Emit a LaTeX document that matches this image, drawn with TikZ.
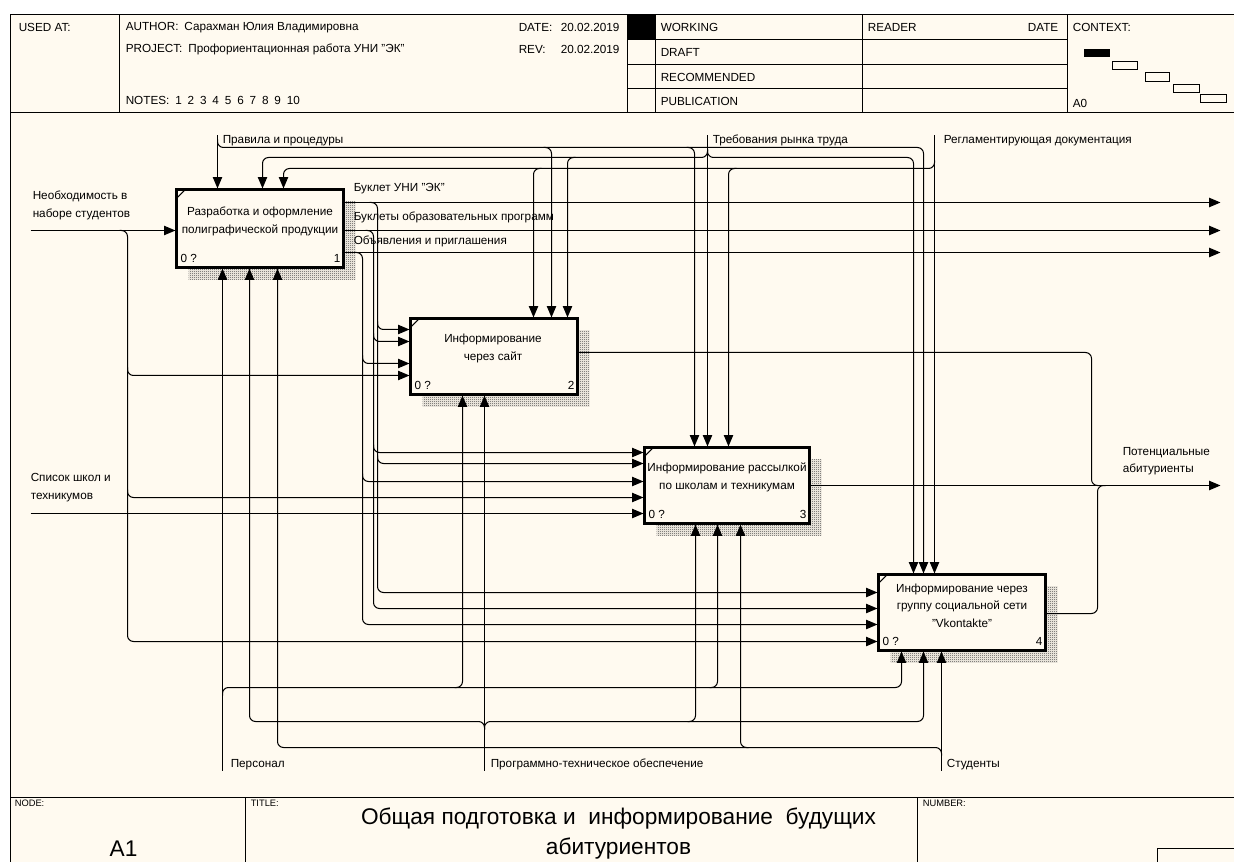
\documentclass[tikz,border=0pt]{standalone}
\usepackage{fontspec}
\setmainfont{Liberation Sans}
\usetikzlibrary{arrows.meta,patterns,fit,calc}
\definecolor{cream}{RGB}{255,250,240}
\pgfdeclarepatternformonly{finechecker}{\pgfpointorigin}{\pgfpoint{1.5pt}{1.5pt}}{\pgfpoint{1.5pt}{1.5pt}}{%
  \pgfpathrectangle{\pgfpointorigin}{\pgfpoint{0.75pt}{0.75pt}}%
  \pgfpathrectangle{\pgfpoint{0.75pt}{0.75pt}}{\pgfpoint{0.75pt}{0.75pt}}%
  \pgfusepath{fill}}
\begin{document}
\begin{tikzpicture}[x=0.75pt,y=-0.75pt,
  conn/.style={line width=0.75pt, rounded corners=4.5pt},
  arr/.style={conn, -{Triangle[length=8.5pt,width=7pt]}},
  proc/.style={draw, line width=1.6pt, fill=cream, inner sep=0pt},
  shadowbox/.style={pattern=finechecker, pattern color=black!75},
  frame/.style={line width=1.1pt},
  txt/.style={font=\fontsize{8.8}{13}\selectfont, inner sep=0pt, align=left},
  ptxt/.style={font=\fontsize{8.8}{13}\selectfont, inner sep=0pt, align=center},
  small/.style={font=\fontsize{7}{8}\selectfont, inner sep=0pt},
  big/.style={font=\fontsize{17}{22.5}\selectfont, inner sep=0pt, align=center}
]
\useasboundingbox (0,0) rectangle (1234,862);
\fill[white] (0,0) rectangle (1234,862);
\fill[cream] (10,14) rectangle (1234,862);
\begin{scope}[shift={(0.5,0.5)}]
% ---------- header ----------
\fill[black] (627,14) rectangle (655,39);
\draw[frame] (1234,14) -- (10,14) -- (10,862);
\draw[frame] (10,112) -- (1234,112);
\draw[frame] (119,14) -- (119,112);
\draw[frame] (627,14) -- (627,112);
\draw[frame] (655,14) -- (655,112);
\draw[frame] (862,14) -- (862,112);
\draw[frame] (1067,14) -- (1067,112);
\foreach \yy in {39,64,88} \draw[frame] (627,\yy) -- (1067,\yy);

\node[txt, anchor=west] (usedat) at (18,27) {USED AT:};
\node[txt, anchor=west] (author) at (125,27) {AUTHOR:\enspace Сарахман Юлия Владимировна};
\node[txt, anchor=west] (project) at (125,49) {PROJECT:\enspace Профориентационная работа УНИ "ЭК"};
\node[txt, anchor=west] (notes) at (125,100) {NOTES:\enspace 1\enspace 2\enspace 3\enspace 4\enspace 5\enspace 6\enspace 7\enspace 8\enspace 9\enspace 10};
\node[txt, anchor=west] (datel) at (518,27) {DATE:};
\node[txt, anchor=west] (datev) at (560,27) {20.02.2019};
\node[txt, anchor=west] (revl) at (518,49) {REV:};
\node[txt, anchor=west] (revv) at (560,49) {20.02.2019};
\node[txt, anchor=west] (working) at (660,27) {WORKING};
\node[txt, anchor=west] (draft) at (660,52) {DRAFT};
\node[txt, anchor=west] (recom) at (660,77) {RECOMMENDED};
\node[txt, anchor=west] (publ) at (660,101) {PUBLICATION};
\node[txt, anchor=west] (reader) at (867,27) {READER};
\node[txt, anchor=east] (rdate) at (1058,27) {DATE};
\node[txt, anchor=west] (context) at (1072,27) {CONTEXT:};
\node[txt, anchor=west] (a0) at (1072,103) {A0};
\fill[black] (1083,49) rectangle (1109,57);
\draw[line width=0.9pt] (1112,61) rectangle (1137,69);
\draw[line width=0.9pt] (1145,72) rectangle (1169,81);
\draw[line width=0.9pt] (1173,84) rectangle (1199,92);
\draw[line width=0.9pt] (1200,94) rectangle (1226,102);

% ---------- footer ----------
\draw[frame] (10,797) -- (1234,797);
\draw[frame] (245,797) -- (245,862);
\draw[frame] (917,797) -- (917,862);
\draw[frame] (1157,862) -- (1157,848) -- (1234,848);
\node[small, anchor=west] (nodel) at (14,803) {NODE:};
\node[small, anchor=west] (titlel) at (250,803) {TITLE:};
\node[small, anchor=west] (numberl) at (922,803) {NUMBER:};
\node[big] (a1) at (123,848) {A1};
\node[big] (title) at (618,833) {Общая подготовка и\ \ информирование\ \ будущих\\абитуриентов};

% ---------- shadows ----------
\fill[shadowbox] (188,201) rectangle (355,279);
\fill[shadowbox] (422,330) rectangle (589,406);
\fill[shadowbox] (656,459) rectangle (821,535);
\fill[shadowbox] (890,586) rectangle (1057,662);

% ---------- boxes ----------
\node[proc, fit={(176,189)(343,267)}] (b1) {};
\node[proc, fit={(410,318)(577,394)}] (b2) {};
\node[proc, fit={(644,447)(809,523)}] (b3) {};
\node[proc, fit={(878,574)(1045,650)}] (b4) {};
\foreach \b in {b1,b2,b3,b4}{
  \draw[line width=0.9pt] ($(\b.north west)+(0,11)$) -- ($(\b.north west)+(11,0)$);
}
\node[ptxt] (t1) at ($(b1.center)+(0,-7)$) {Разработка и оформление\\полиграфической продукции};
\node[ptxt] (t2) at ($(b2.center)+(-1,-8)$) {Информирование\\через сайт};
\node[ptxt] (t3) at ($(b3.center)+(0,-8)$) {Информирование рассылкой\\по школам и техникумам};
\node[ptxt] (t4) at ($(b4.center)+(0,-7)$) {Информирование через\\группу социальной сети\\"Vkontakte"};
\foreach \b/\n in {b1/1,b2/2,b3/3,b4/4}{
  \node[txt, anchor=west] (\b z) at ($(\b.south west)+(5,-10)$) {0 ?};
  \node[txt, anchor=east] (\b n) at ($(\b.south east)+(-4,-10)$) {\n};
}

% ---------- free ends ----------
\coordinate (cA) at (217,135);
\coordinate (cB) at (707,135);
\coordinate (cC) at (934,135);
\coordinate (iA) at (30,230);
\coordinate (iB) at (30,513);
\coordinate (mA) at (222,770);
\coordinate (mB) at (484,770);
\coordinate (mC) at (941,770);
\coordinate (oA) at (1220,202);
\coordinate (oB) at (1220,230);
\coordinate (oC) at (1220,252);
\coordinate (oD) at (1220,485);

% ---------- controls ----------
\draw[arr] (cA) -- (cA |- b1.north);
\draw[arr] (217,139) |- (923,147) -- (923,0 |- b4.north);
\draw[arr] (543,147) -| (551,0 |- b2.north);
\draw[arr] (686,147) -| (694,0 |- b3.north);

\draw[arr] (cB) -- (cB |- b3.north);
\draw[arr] (707,149) |- (262,157) -- (262,0 |- b1.north);
\draw[arr] (575,157) -| (567,0 |- b2.north);
\draw[arr] (707,149) |- (913,157) -- (913,0 |- b4.north);

\draw[arr] (cC) -- (cC |- b4.north);
\draw[arr] (934,160) |- (283,168) -- (283,0 |- b1.north);
\draw[arr] (541,168) -| (533,0 |- b2.north);
\draw[arr] (736,168) -| (728,0 |- b3.north);

% ---------- inputs ----------
\draw[arr] (iA) -- (iA -| b1.west);
\draw[arr] (119,230) -| (127,641) -- (b4.west |- 0,641);
\draw[arr] (127,367) |- (b2.west |- 0,375);
\draw[arr] (127,489) |- (b3.west |- 0,497);
\draw[arr] (iB) -- (iB -| b3.west);

% ---------- outputs of box 1 ----------
\draw[arr] (b1.east |- oA) -- (oA);
\draw[arr] (b1.east |- oB) -- (oB);
\draw[arr] (b1.east |- oC) -- (oC);
\draw[arr] (369,202) -| (377,592) -- (b4.west |- 0,592);
\draw[arr] (377,321) |- (b2.west |- 0,329);
\draw[arr] (377,455) |- (b3.west |- 0,463);
\draw[arr] (365,230) -| (373,608) -- (b4.west |- 0,608);
\draw[arr] (373,333) |- (b2.west |- 0,341);
\draw[arr] (373,444) |- (b3.west |- 0,452);
\draw[arr] (354,252) -| (362,624) -- (b4.west |- 0,624);
\draw[arr] (362,355) |- (b2.west |- 0,363);
\draw[arr] (362,473) |- (b3.west |- 0,481);

% ---------- outputs of boxes 2-4 ----------
\draw[arr] (b3.east |- oD) -- (oD);
\draw[conn] (b2.east |- 0,352) -- (1091,352) -- (1091,485) -- (1099,485);
\draw[conn] (b4.east |- 0,613) -- (1097,613) -- (1097,485) -- (1105,485);

% ---------- mechanisms ----------
\draw[arr] (mA) -- (mA |- b1.south);
\draw[arr] (222,695) |- (901,687) -- (901,0 |- b4.south);
\draw[arr] (454,687) -| (462,0 |- b2.south);
\draw[arr] (709,687) -| (717,0 |- b3.south);
\draw[arr] (mB) -- (mB |- b2.south);
\draw[arr] (484,729) |- (249,721) -- (249,0 |- b1.south);
\draw[arr] (484,729) |- (923,721) -- (923,0 |- b4.south);
\draw[arr] (687,721) -| (695,0 |- b3.south);
\draw[arr] (mC) -- (mC |- b4.south);
\draw[arr] (941,755) |- (277,747) -- (277,0 |- b1.south);
\draw[arr] (748,747) -| (740,0 |- b3.south);

% ---------- labels ----------
\node[txt, anchor=west] (lA) at (222,140) {Правила и процедуры};
\node[txt, anchor=west] (lB) at (712,140) {Требования рынка труда};
\node[txt, anchor=west] (lC) at (943,140) {Регламентирующая документация};
\node[txt, anchor=west] (lO1) at (353,188) {Буклет УНИ "ЭК"};
\node[txt, anchor=west] (lO2) at (353,217) {Буклеты образовательных программ};
\node[txt, anchor=west] (lO3) at (353,241) {Объявления и приглашения};
\node[txt, anchor=west] (lI1) at (32,205) {Необходимость в\\наборе студентов};
\node[txt, anchor=west] (lI2) at (30,487) {Список школ и\\техникумов};
\node[txt, anchor=west] (lO4) at (1122,461) {Потенциальные\\абитуриенты};
\node[txt, anchor=west] (lM1) at (230,764) {Персонал};
\node[txt, anchor=west] (lM2) at (490,764) {Программно-техническое обеспечение};
\node[txt, anchor=west] (lM3) at (946,764) {Студенты};
\end{scope}
\end{tikzpicture}
\end{document}
